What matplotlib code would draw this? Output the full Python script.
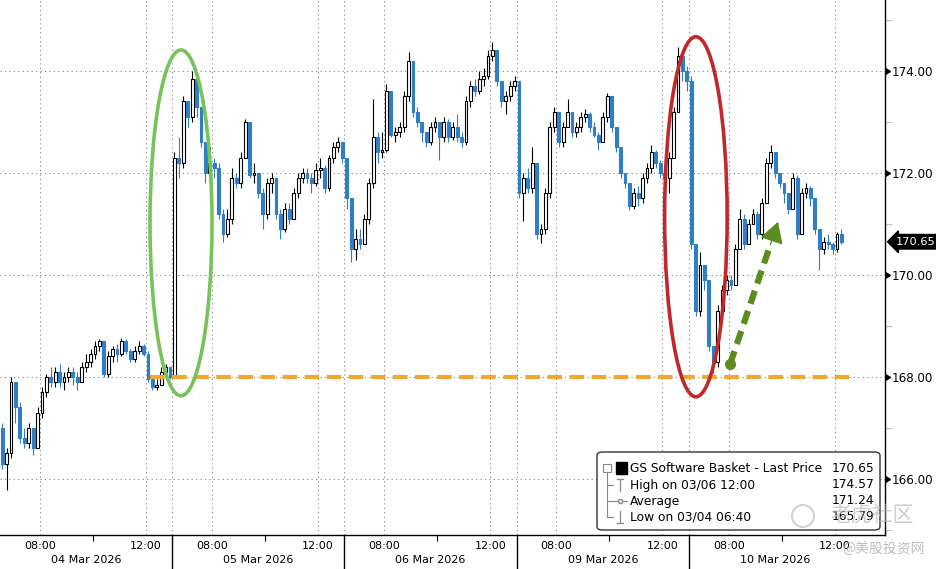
import numpy as np
import matplotlib.pyplot as plt
from matplotlib.patches import Ellipse, FancyBboxPatch, Rectangle
from matplotlib.lines import Line2D
from matplotlib.transforms import blended_transform_factory
from matplotlib.ticker import FixedLocator, MultipleLocator

plt.rcParams['font.family'] = ['DejaVu Sans', 'Noto Sans CJK SC']

# ---- data: 10-minute bars, session 06:30-13:00 ----
days = ["04 Mar 2026", "05 Mar 2026", "06 Mar 2026", "09 Mar 2026", "10 Mar 2026"]
first_open = 167.0

d1_close = [166.3, 166.5, 167.9, 167.4, 166.8, 166.7, 167.0, 166.6, 167.3, 167.7,
            168.0, 167.9, 168.1, 167.9, 168.0, 168.1, 168.0, 167.9, 168.2, 168.3,
            168.45, 168.6, 168.7, 168.05, 168.4, 168.55, 168.45, 168.7, 168.5, 168.35,
            168.5, 168.6, 168.45, 167.95, 167.8, 167.85, 168.1, 168.2, 168.0]
d1_high = [167.1, 166.6, 168.0, 167.9, 167.5, 167.0, 167.1, 167.0, 167.4, 167.8,
           168.05, 168.2, 168.2, 168.25, 168.1, 168.2, 168.2, 168.1, 168.3, 168.45,
           168.55, 168.7, 168.75, 168.7, 168.5, 168.6, 168.65, 168.76, 168.75, 168.55,
           168.6, 168.7, 168.65, 168.5, 168.0, 167.95, 168.2, 168.25, 168.2]
d1_low = [166.2, 165.79, 166.4, 167.1, 166.7, 166.6, 166.6, 166.47, 166.6, 167.2,
          167.6, 167.8, 167.8, 167.8, 167.75, 167.9, 167.85, 167.75, 167.9, 168.1,
          168.2, 168.35, 168.5, 168.0, 168.0, 168.3, 168.3, 168.4, 168.45, 168.3,
          168.3, 168.45, 168.4, 167.9, 167.75, 167.75, 167.85, 168.0, 167.95]

d2_close = [172.3, 172.2, 173.4, 173.1, 173.85, 173.3, 172.6, 172.0, 172.2, 172.1,
            171.2, 170.8, 171.1, 171.9, 171.8, 172.3, 173.0, 171.95, 172.0, 171.6,
            171.2, 171.8, 171.9, 171.2, 170.9, 171.3, 171.1, 171.6, 171.9, 172.0,
            171.9, 171.8, 172.05, 172.1, 171.7, 172.3, 172.5, 172.6, 172.3]
d2_high = [172.4, 172.7, 173.5, 173.4, 174.0, 173.9, 173.3, 172.6, 172.5, 172.3,
           172.2, 171.3, 171.3, 172.1, 172.0, 172.4, 173.05, 173.0, 172.2, 172.0,
           171.7, 171.9, 172.0, 171.9, 171.3, 171.4, 171.4, 171.7, 172.0, 172.1,
           172.1, 172.0, 172.2, 172.3, 172.15, 172.35, 172.6, 172.7, 172.6]
d2_low = [168.0, 171.9, 172.1, 172.9, 173.0, 173.1, 172.5, 171.8, 171.9, 171.9,
          171.1, 170.65, 170.75, 171.0, 171.7, 171.7, 172.3, 171.9, 171.8, 171.5,
          170.9, 171.1, 171.6, 171.1, 170.7, 170.85, 171.0, 171.1, 171.5, 171.8,
          171.8, 171.6, 171.75, 171.9, 171.6, 171.65, 172.2, 172.4, 172.2]

d3_close = [171.5, 170.5, 170.7, 170.6, 171.1, 171.8, 172.7, 172.4, 172.45, 173.6,
            172.75, 172.8, 172.9, 173.5, 174.2, 173.2, 173.0, 172.8, 172.6, 172.9,
            173.0, 172.7, 173.0, 172.7, 172.9, 172.7, 172.6, 173.4, 173.7, 173.6,
            173.85, 173.9, 174.3, 174.4, 173.8, 173.4, 173.5, 173.7, 173.8]
d3_high = [172.3, 171.5, 170.9, 170.9, 171.2, 171.9, 173.45, 172.8, 172.8, 173.75,
           173.6, 172.9, 173.0, 173.6, 174.37, 174.2, 173.3, 173.0, 172.8, 173.0,
           173.1, 173.0, 173.1, 173.05, 173.0, 173.15, 172.8, 173.5, 173.8, 173.85,
           174.0, 174.05, 174.4, 174.57, 174.4, 173.8, 173.6, 173.8, 173.9]
d3_low = [171.3, 170.25, 170.3, 170.5, 170.6, 171.0, 171.7, 172.2, 172.3, 172.4,
          172.7, 172.6, 172.7, 172.8, 173.4, 173.1, 172.9, 172.6, 172.5, 172.55,
          172.8, 172.25, 172.6, 172.6, 172.65, 172.6, 172.5, 172.55, 173.3, 173.5,
          173.55, 173.7, 173.85, 174.2, 173.7, 173.3, 173.15, 173.4, 173.6]

d4_close = [171.6, 171.9, 171.7, 172.2, 170.8, 170.9, 171.6, 172.9, 173.2, 172.6,
            172.9, 173.2, 172.8, 172.9, 173.1, 173.15, 172.9, 172.75, 172.6, 173.1,
            173.5, 172.9, 172.5, 172.0, 171.8, 171.35, 171.6, 171.5, 171.9, 172.1,
            172.4, 172.2, 172.0, 171.9, 172.3, 173.2, 174.3, 174.0, 173.8]
d4_high = [173.8, 172.0, 172.1, 172.5, 172.2, 171.0, 171.7, 173.0, 173.3, 173.2,
           173.0, 173.45, 173.2, 173.0, 173.2, 173.25, 173.2, 173.0, 172.8, 173.2,
           173.57, 173.5, 172.9, 172.5, 172.0, 171.8, 171.7, 171.75, 172.0, 172.2,
           172.55, 172.45, 172.25, 172.05, 172.4, 173.3, 174.47, 174.4, 174.1]
d4_low = [171.5, 171.05, 171.6, 171.6, 170.7, 170.63, 170.8, 171.5, 172.8, 172.5,
          172.5, 172.9, 172.7, 172.7, 172.8, 173.0, 172.8, 172.7, 172.45, 172.6,
          173.0, 172.8, 172.4, 171.9, 171.7, 171.27, 171.3, 171.35, 171.4, 171.8,
          172.0, 172.1, 171.9, 171.6, 171.6, 172.3, 173.2, 173.8, 173.6]

d5_close = [170.6, 169.3, 170.2, 169.9, 168.6, 168.3, 169.3, 169.7, 169.9, 169.8,
            170.5, 171.1, 170.6, 171.0, 171.2, 170.8, 171.4, 172.2, 172.4, 172.0,
            171.8, 171.6, 171.3, 171.9, 170.8, 171.6, 171.7, 171.5, 170.9, 170.5,
            170.65, 170.6, 170.5, 170.8, 170.65]
d5_high = [173.9, 170.6, 170.45, 170.2, 169.9, 168.6, 169.4, 169.8, 170.0, 170.0,
           170.6, 171.3, 171.2, 171.1, 171.3, 171.25, 171.5, 172.3, 172.55, 172.4,
           172.0, 171.8, 171.6, 172.0, 171.95, 171.7, 171.8, 171.75, 171.5, 170.9,
           170.75, 170.8, 170.65, 170.85, 170.9]
d5_low = [170.5, 169.2, 169.2, 169.7, 168.5, 168.07, 168.2, 169.2, 169.6, 169.7,
          169.8, 170.5, 170.5, 170.6, 171.0, 170.7, 170.7, 171.4, 172.1, 171.9,
          171.7, 171.4, 171.2, 171.3, 170.7, 170.8, 171.5, 171.35, 170.8, 170.1,
          170.4, 170.5, 170.4, 170.45, 170.6]

last_price = 170.65
legend_rows = [("GS Software Basket - Last Price", "170.65"),
               ("High on 03/06 12:00", "174.57"),
               ("Average", "171.24"),
               ("Low on 03/04 06:40", "165.79")]
support_level = 168.0
yticks = [166, 168, 170, 172, 174]

# ---- assemble ----
SESSION = 6.5  # hours per day
closes, highs, lows, t = [], [], [], []
for d, (c, h, l) in enumerate([(d1_close, d1_high, d1_low), (d2_close, d2_high, d2_low),
                               (d3_close, d3_high, d3_low), (d4_close, d4_high, d4_low),
                               (d5_close, d5_high, d5_low)]):
    closes += c
    highs += h
    lows += l
    t += [d * SESSION + (i + 0.5) / 6 for i in range(len(c))]
closes = np.array(closes)
highs = np.array(highs)
lows = np.array(lows)
t = np.array(t)
opens = np.concatenate([[first_open], closes[:-1]])
up = closes >= opens

BLUE = "#2f7fc6"
W, H = 937, 569
fig = plt.figure(figsize=(W / 100, H / 100), dpi=100)
ax = fig.add_axes([0, 34 / H, 885 / W, 535 / H])
ax.set_xlim(0, 885 / 26.5)
ax.set_ylim(164.90, 175.39)

# grid
grid_kw = dict(color="#808080", lw=0.8, ls=(0, (1, 3)), zorder=0)
for y in yticks:
    ax.axhline(y, **grid_kw)
for d in range(len(days)):
    ax.axvline(d * SESSION + 1.5, **grid_kw)
    ax.axvline(d * SESSION + 5.5, **grid_kw)
    if d > 0:
        ax.axvline(d * SESSION, **grid_kw)

# candles
ax.vlines(t[up], lows[up], highs[up], color="black", lw=0.8, zorder=2)
ax.vlines(t[~up], lows[~up], highs[~up], color=BLUE, lw=0.8, zorder=2)
body_h = np.maximum(np.abs(closes - opens), 0.03)
body_b = np.minimum(opens, closes)
ax.bar(t[up], body_h[up], bottom=body_b[up], width=0.11, color="white",
       edgecolor="black", lw=0.8, zorder=3)
ax.bar(t[~up], body_h[~up], bottom=body_b[~up], width=0.11, color=BLUE,
       edgecolor=BLUE, lw=0.8, zorder=3)

# annotations
ax.plot([5.66, 32.15], [support_level, support_level], color="#f0a830", lw=3,
        ls=(0, (3.5, 1.8)), zorder=4)
ax.add_patch(Ellipse((6.83, 171.02), 2.34, 6.78, fill=False, ec="#78c25a", lw=2.6, zorder=5))
ax.add_patch(Ellipse((26.26, 171.14), 2.36, 7.06, fill=False, ec="#c0282a", lw=2.6, zorder=5))
ARROW = "#5b8c1f"
a0 = np.array([27.55, 168.25])
a1 = np.array([29.36, 171.04])
head_start = a0 + 0.84 * (a1 - a0)
ax.plot([a0[0], head_start[0]], [a0[1], head_start[1]], color=ARROW, lw=4.5,
        ls=(0, (2.2, 1.2)), zorder=6)
ax.plot([a0[0]], [a0[1]], "o", color=ARROW, ms=7, zorder=6)
ax.annotate("", xy=tuple(a1), xytext=tuple(head_start),
            arrowprops=dict(arrowstyle="-|>,head_length=1.3,head_width=0.75",
                            color=ARROW, lw=1, shrinkA=0, shrinkB=0), zorder=6)

# spines / y axis
for s in ["top", "left"]:
    ax.spines[s].set_visible(False)
ax.spines["right"].set_linewidth(1.0)
ax.spines["bottom"].set_linewidth(1.0)
ax.yaxis.tick_right()
ax.set_yticks(yticks)
ax.set_yticklabels([f"{v:.2f}" for v in yticks], fontsize=8.6)
ax.tick_params(axis="y", which="major", length=0, pad=4.5)
ax.yaxis.set_minor_locator(MultipleLocator(1))
ax.tick_params(axis="y", which="minor", length=5, width=0.8, color="#c0c0c0")
ytr = ax.get_yaxis_transform()
ax.plot([1.0] * len(yticks), yticks, marker=9, ls="none", color="black",
        ms=4.5, transform=ytr, clip_on=False, zorder=7)
ax.annotate(f"{last_price:.2f}", xy=(1.0, last_price), xycoords=ytr,
            xytext=(7.5, 0), textcoords="offset points", ha="left", va="center",
            color="white", fontsize=8.2,
            bbox=dict(boxstyle="larrow,pad=0.2", fc="black", ec="black"))

# x axis
major = []
for d in range(len(days)):
    major += [d * SESSION + 1.5, d * SESSION + 5.5]
ax.xaxis.set_major_locator(FixedLocator(major))
ax.set_xticklabels(["08:00", "12:00"] * len(days), fontsize=8)
ax.tick_params(axis="x", which="major", length=0, pad=4)
ax.xaxis.set_minor_locator(FixedLocator([d * SESSION + 3.5 for d in range(len(days))]))
ax.tick_params(axis="x", which="minor", length=4, width=0.8, color="black")
xtr = blended_transform_factory(ax.transData, ax.transAxes)
for d, name in enumerate(days):
    ax.text(d * SESSION + SESSION / 2, -0.047, name, transform=xtr, ha="center",
            va="center", fontsize=8)
    if d > 0:
        ax.plot([d * SESSION] * 2, [0, -0.07], color="black", lw=1, transform=xtr,
                clip_on=False)


# legend box (figure pixel positions)
def fx(px):
    return px / W


def fy(py):
    return 1 - py / H


fig.patches.append(FancyBboxPatch((fx(597), fy(530)), fx(880) - fx(597), fy(452) - fy(530),
                                  boxstyle="round,pad=0,rounding_size=0.006",
                                  transform=fig.transFigure, fc="white", ec="#333333",
                                  lw=1, zorder=10))
gray = "#888888"
fig.patches.append(Rectangle((fx(603), fy(472)), fx(8), 8 / H, transform=fig.transFigure,
                             fc="white", ec=gray, lw=0.8, zorder=11))
fig.lines += [Line2D([fx(605), fx(609)], [fy(468)] * 2, transform=fig.transFigure, color=gray, lw=0.8, zorder=11),
              Line2D([fx(607)] * 2, [fy(473), fy(517)], transform=fig.transFigure, color=gray, lw=0.8, zorder=11)]
for py in [485, 501, 517]:
    fig.lines.append(Line2D([fx(607), fx(613)], [fy(py)] * 2, transform=fig.transFigure,
                            color=gray, lw=0.8, zorder=11))
fig.patches.append(Rectangle((fx(616), fy(474)), fx(11), 12 / H, transform=fig.transFigure,
                             fc="black", ec="black", zorder=11))
fig.lines += [Line2D([fx(620)] * 2, [fy(479), fy(491)], transform=fig.transFigure, color=gray, lw=0.9, zorder=11),
              Line2D([fx(617), fx(623)], [fy(479)] * 2, transform=fig.transFigure, color=gray, lw=0.9, zorder=11),
              Line2D([fx(614), fx(627)], [fy(501)] * 2, transform=fig.transFigure, color=gray, lw=0.9, zorder=11),
              Line2D([fx(620)], [fy(501)], marker="o", ms=3, mfc="white", mec=gray, transform=fig.transFigure, zorder=11),
              Line2D([fx(620)] * 2, [fy(511), fy(523)], transform=fig.transFigure, color=gray, lw=0.9, zorder=11),
              Line2D([fx(617), fx(623)], [fy(523)] * 2, transform=fig.transFigure, color=gray, lw=0.9, zorder=11)]
for (label, val), py in zip(legend_rows, [468, 485, 501, 517]):
    fig.text(fx(630), fy(py), label, ha="left", va="center", fontsize=8.8, zorder=12)
    fig.text(fx(874), fy(py), val, ha="right", va="center", fontsize=8.8, zorder=12)

# watermarks
fig.patches.append(Ellipse((fx(803), fy(516)), 22 / W, 22 / H, transform=fig.transFigure,
                           fill=False, ec="#c8c8c8", lw=1.5, alpha=0.8, zorder=13))
fig.text(fx(872), fy(515), "老虎社区", ha="center", va="center", fontsize=15,
         color="#b8b8b8", alpha=0.7, family=["Noto Sans CJK SC"], zorder=13)
fig.text(fx(884), fy(549), "@美股投资网", ha="center", va="center", fontsize=10,
         color="#b0b0b0", alpha=0.8, family=["Noto Sans CJK SC"], zorder=13)

fig.savefig("out.png", dpi=100)
